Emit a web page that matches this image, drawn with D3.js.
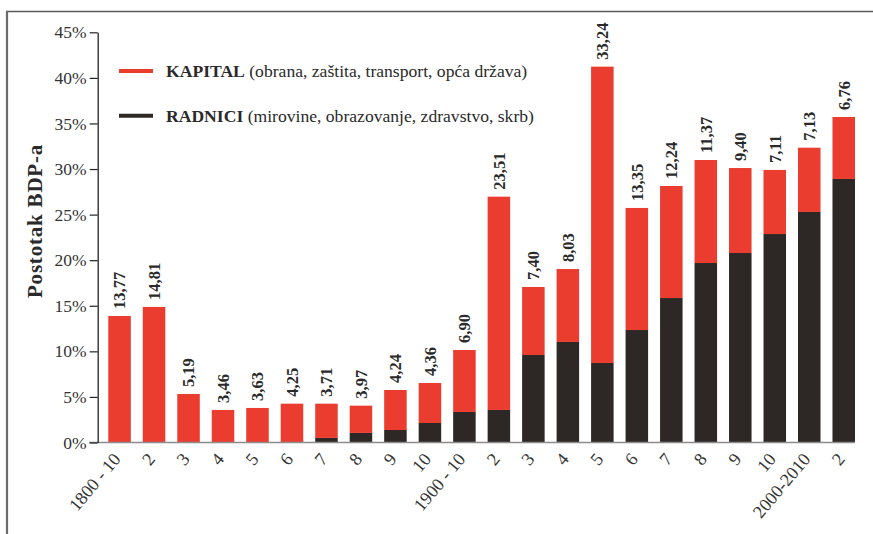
<!DOCTYPE html>
<html>
<head>
<meta charset="utf-8">
<script src="https://cdn.jsdelivr.net/npm/d3@7/dist/d3.min.js"></script>
<style>
  html, body { margin: 0; padding: 0; background: #fff; }
  svg { display: block; }
  text { font-family: "Liberation Serif", "DejaVu Serif", serif; }
</style>
</head>
<body>
<svg id="chart" width="873" height="534"></svg>
<script>
// ---- data ----
const categories = ["1800 - 10","2","3","4","5","6","7","8","9","10","1900 - 10","2","3","4","5","6","7","8","9","10","2000-2010","2"];
const radnici = [0,0,0,0,0,0,0.5,1.05,1.37,2.14,3.35,3.57,9.6,11.03,8.72,12.34,15.85,19.69,20.79,22.87,25.29,28.91];
const kapital = [13.88,14.87,5.32,3.57,3.79,4.26,3.76,2.99,4.39,4.39,6.80,23.40,7.46,8.00,32.51,13.39,12.29,11.30,9.32,7.03,7.05,6.80];
const valueLabels = ["13,77","14,81","5,19","3,46","3,63","4,25","3,71","3,97","4,24","4,36","6,90","23,51","7,40","8,03","33,24","13,35","12,24","11,37","9,40","7,11","7,13","6,76"];
const yTicks = [0,5,10,15,20,25,30,35,40,45];
const legendItems = [
  {bold: "KAPITAL", rest: " (obrana, zaštita, transport, opća država)", color: "#EA3D30"},
  {bold: "RADNICI", rest: " (mirovine, obrazovanje, zdravstvo, skrb)", color: "#2D2825"}
];
const RED = "#EA3D30", BLACK = "#2D2825", TEXT = "#333";

const svg = d3.select("#chart");

// frame
svg.append("line").attr("x1",7).attr("x2",873).attr("y1",11.5).attr("y2",11.5)
  .attr("stroke","#5a5a5a").attr("stroke-width",1.6);
svg.append("line").attr("x1",7).attr("x2",7).attr("y1",10.7).attr("y2",534)
  .attr("stroke","#6a6a6a").attr("stroke-width",2.2);

const idx = d3.range(categories.length);
const x = d3.scaleBand().domain(idx).range([108.3, 855]).paddingInner(0.347).paddingOuter(0);
const y = d3.scaleLinear().domain([0,45]).range([442.5, 32.3]);

// stacked data
const stackData = idx.map(i => ({i, radnici: radnici[i], kapital: kapital[i]}));
const series = d3.stack().keys(["radnici","kapital"])(stackData);
const colors = {radnici: BLACK, kapital: RED};

svg.append("g").selectAll("g").data(series).join("g")
  .attr("fill", d => colors[d.key])
  .selectAll("rect").data(d => d).join("rect")
  .attr("x", d => x(d.data.i))
  .attr("width", x.bandwidth())
  .attr("y", d => y(d[1]))
  .attr("height", d => Math.max(0, y(d[0]) - y(d[1])));

// x axis
const xAxis = d3.axisBottom(x).tickSize(0).tickFormat(i => categories[i]);
const gx = svg.append("g").attr("transform", `translate(0,${y(0)})`).call(xAxis);
gx.select(".domain").remove();
svg.append("line").attr("x1",89).attr("x2",855).attr("y1",y(0)).attr("y2",y(0))
  .attr("stroke","#8c8c8c").attr("stroke-width",1.6);
gx.selectAll(".tick text")
  .attr("font-size",18).attr("fill",TEXT)
  .attr("text-anchor","end")
  .attr("dy",null).attr("y",0)
  .attr("transform","translate(2,17) rotate(-50)");

// y axis
const yAxis = d3.axisLeft(y).tickValues(yTicks).tickSize(8).tickSizeOuter(0).tickPadding(3).tickFormat(d => d + "%");
const gy = svg.append("g").attr("transform","translate(97.7,0)").call(yAxis);
gy.select(".domain").attr("stroke","#222").attr("stroke-width",1.3);
gy.selectAll(".tick line").attr("stroke","#222").attr("stroke-width",1.2);
gy.selectAll(".tick text").attr("font-size",17.5).attr("fill",TEXT);

// y title
svg.append("text")
  .attr("transform","translate(41.5,221) rotate(-90)")
  .attr("text-anchor","middle")
  .attr("font-weight","bold").attr("font-size",21).attr("fill","#2a2a2a")
  .attr("letter-spacing",0.8)
  .text("Postotak BDP-a");

// value labels
svg.append("g").selectAll("text").data(stackData).join("text")
  .attr("transform", d => `translate(${x(d.i) + x.bandwidth()/2},${y(d.radnici + d.kapital) - 7}) rotate(-90)`)
  .attr("dy","0.35em")
  .attr("text-anchor","start")
  .attr("font-weight","bold").attr("font-size",16.5).attr("fill","#2a2a2a")
  .text(d => valueLabels[d.i]);

// legend
const lg = svg.append("g").selectAll("g").data(legendItems).join("g")
  .attr("transform",(d,i) => `translate(0,${71 + i*44.7})`);
lg.append("line").attr("x1",119).attr("x2",153).attr("y1",0).attr("y2",0)
  .attr("stroke", d => d.color).attr("stroke-width",4);
const lt = lg.append("text").attr("x",166).attr("y",6.3)
  .attr("font-size",17.6).attr("fill","#2a2a2a");
lt.append("tspan").attr("font-weight","bold").text(d => d.bold);
lt.append("tspan").text(d => d.rest);
</script>
</body>
</html>
